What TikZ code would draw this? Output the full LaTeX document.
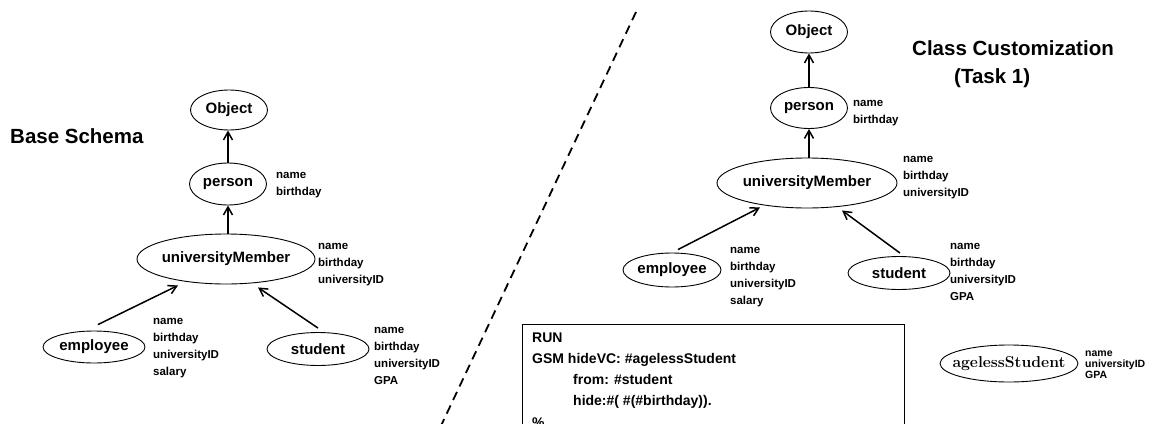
\documentclass[tikz,border=0pt]{standalone}
\usepackage{fontspec}
\newfontfamily\hel{Liberation Sans}
\usetikzlibrary{arrows.meta,shapes.geometric}
\begin{document}
\begin{tikzpicture}[x=1pt,y=-1pt,
  cls/.style={draw, ellipse, line width=0.9pt, inner sep=0pt,
    font=\hel\bfseries\fontsize{15}{18}\selectfont},
  vcls/.style={draw, ellipse, line width=0.9pt, inner sep=0pt,
    font=\rmfamily\bfseries\fontsize{15.7}{18}\selectfont},
  attr/.style={anchor=base west, inner sep=0pt,
    font=\hel\bfseries\fontsize{11.5}{17}\selectfont},
  sattr/.style={anchor=base west, inner sep=0pt,
    font=\hel\bfseries\fontsize{10.5}{11}\selectfont},
  isa/.style={line width=1.5pt, -{Straight Barb[length=8pt,width=9pt]}},
  title/.style={anchor=base west, inner sep=0pt,
    font=\hel\bfseries\fontsize{20.5}{28}\selectfont},
  code/.style={anchor=base west, inner sep=0pt,
    font=\hel\bfseries\fontsize{14}{21.3}\selectfont},
  divider/.style={line width=1.8pt, dash pattern=on 9pt off 6pt},
]
\clip (0,0) rectangle (1161,423);

% ---------- base schema ----------
\node[title] (ltitle) at (10,143) {Base Schema};

\node[cls, minimum width=77pt, minimum height=40pt] (lobj) at (229,110) {\makebox[0pt]{Object}};
\node[cls, minimum width=77pt, minimum height=42pt] (lper) at (228,184) {\makebox[0pt]{person}};
\node[cls, minimum width=178pt, minimum height=50pt] (lum) at (226,259) {\makebox[0pt]{universityMember}};
\node[cls, minimum width=102pt, minimum height=32pt] (lemp) at (94,347) {\makebox[0pt]{employee}};
\node[cls, minimum width=102pt, minimum height=33pt] (lstu) at (318,349) {\makebox[0pt]{student}};

\node[attr] (lpera) at (276,178) {\begin{tabular}[t]{@{}l@{}}name\\birthday\end{tabular}};
\node[attr] (luma) at (318,249) {\begin{tabular}[t]{@{}l@{}}name\\birthday\\universityID\end{tabular}};
\node[attr] (lempa) at (153,324) {\begin{tabular}[t]{@{}l@{}}name\\birthday\\universityID\\salary\end{tabular}};
\node[attr] (lstua) at (374,333) {\begin{tabular}[t]{@{}l@{}}name\\birthday\\universityID\\GPA\end{tabular}};

\draw[isa] (lper.north) -- (lper.north |- lobj.south);
\draw[isa] (lum.north -| lper.south) -- (lper.south);
\draw[isa] ([xshift=4pt,yshift=6pt]lemp.north) -- ([xshift=-48pt,yshift=-1pt]lum.south);
\draw[isa] ([yshift=4pt]lstu.north) -- ([xshift=32pt,yshift=-3pt]lum.south);

% ---------- dividing line ----------
\coordinate (dtop) at (636,12);
\coordinate (dbot) at (439,430);
\draw[divider] (dtop) -- (dbot);

% ---------- customized schema ----------
\node[title] (rtitle) at (912,55) {Class Customization};
\node[title] (rtask) at (954,83) {(Task 1)};

\node[cls, minimum width=77pt, minimum height=42pt] (robj) at (809,32) {\makebox[0pt]{Object}};
\node[cls, minimum width=77pt, minimum height=41pt] (rper) at (809,108) {\makebox[0pt]{person}};
\node[cls, minimum width=180pt, minimum height=50pt] (rum) at (807,183) {\makebox[0pt]{universityMember}};
\node[cls, minimum width=98pt, minimum height=34pt] (remp) at (672,270) {\makebox[0pt]{employee}};
\node[cls, minimum width=102pt, minimum height=33pt] (rstu) at (899,273) {\makebox[0pt]{student}};
\node[vcls, minimum width=138pt, minimum height=37pt] (rage) at (1009,363.5) {\makebox[0pt]{agelessStudent}};

\node[attr] (rpera) at (853,106) {\begin{tabular}[t]{@{}l@{}}name\\birthday\end{tabular}};
\node[attr] (ruma) at (903,162) {\begin{tabular}[t]{@{}l@{}}name\\birthday\\universityID\end{tabular}};
\node[attr] (rempa) at (730,253) {\begin{tabular}[t]{@{}l@{}}name\\birthday\\universityID\\salary\end{tabular}};
\node[attr] (rstua) at (950,249) {\begin{tabular}[t]{@{}l@{}}name\\birthday\\universityID\\GPA\end{tabular}};
\node[sattr] (ragea) at (1085,356) {\begin{tabular}[t]{@{}l@{}}name\\universityID\\GPA\end{tabular}};

\draw[isa] (rper.north) -- (rper.north |- robj.south);
\draw[isa] (rum.north -| rper.south) -- (rper.south);
\draw[isa] ([xshift=6pt,yshift=3pt]remp.north) -- ([xshift=-47pt,yshift=1pt]rum.south);
\draw[isa] ([xshift=1pt,yshift=3pt]rstu.north) -- ([xshift=35pt,yshift=-2pt]rum.south);

% ---------- command box ----------
\node[draw, line width=1.2pt, anchor=north west, minimum width=382pt,
  minimum height=140pt, inner sep=0pt] (runbox) at (522,324) {};
\node[code] (runtext) at (532,342) {\begin{tabular}[t]{@{}l@{}}
RUN\\
GSM hideVC: \#agelessStudent\\
\hspace*{41pt}from: \#student\\
\hspace*{41pt}hide:\#( \#(\#birthday)).\\
\%
\end{tabular}};
\end{tikzpicture}
\end{document}
